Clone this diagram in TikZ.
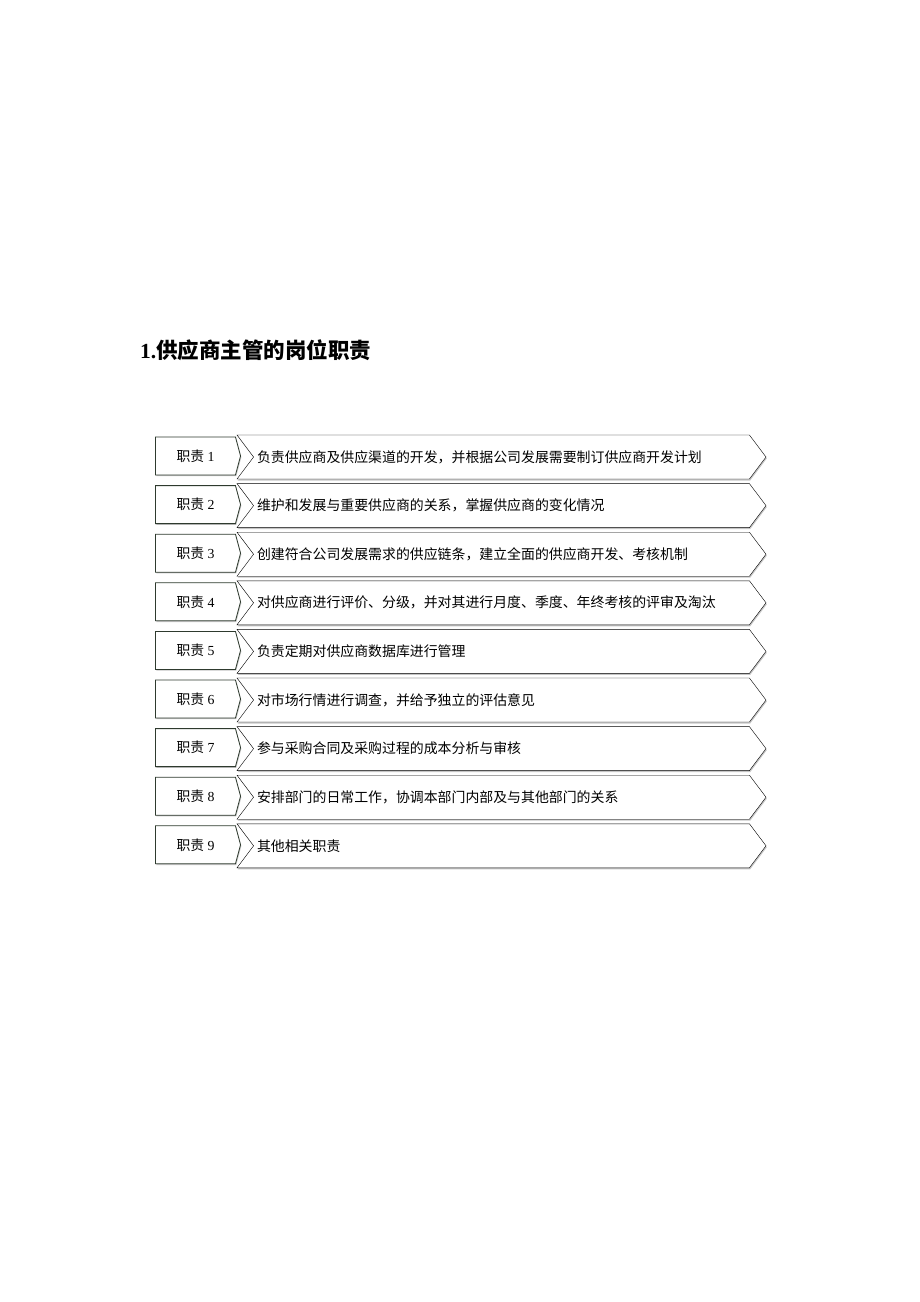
\documentclass[tikz,border=0pt]{standalone}
\usepackage{fontspec}
\setmainfont{Liberation Serif}
\newfontfamily\cjk{Noto Sans CJK SC}
\usepackage{tikz}
\usetikzlibrary{shapes.symbols,shadows}

\definecolor{boxline}{RGB}{46,58,46}
\tikzset{
  dutybox/.style = {signal, signal to = east, draw = boxline, thick, fill = white,
    minimum width = 85pt, minimum height = 38pt, signal pointer angle = 150,
    inner sep = 0pt, font = \fontsize{13.8}{15}\selectfont,
    drop shadow = {shadow xshift = .8pt, shadow yshift = -1.2pt, fill = black!45}},
  taskbar/.style = {signal, signal to = east, signal from = west, draw = black, fill = white,
    minimum width = 529pt, minimum height = 44pt, signal pointer angle = 106,
    inner xsep = 0pt, inner ysep = 2pt, text width = 489pt, align = left,
    font = \fontsize{13.9}{15}\selectfont\cjk,
    drop shadow = {shadow xshift = .8pt, shadow yshift = -1.5pt, fill = black!45}}
}

\begin{document}
\begin{tikzpicture}[x = 1pt, y = -1pt]
		\useasboundingbox (0, 0) rectangle (920, 1302);
		\node (title) at (136.5, 350) [anchor = west, font = \fontsize{21.5}{24}\selectfont\bfseries] {1.{\cjk\bfseries 供应商主管的岗位职责}};
		\foreach \n/\txt [count = \i from 0] in {
			1/负责供应商及供应渠道的开发，并根据公司发展需要制订供应商开发计划,
			2/维护和发展与重要供应商的关系，掌握供应商的变化情况,
			3/创建符合公司发展需求的供应链条，建立全面的供应商开发、考核机制,
			4/对供应商进行评价、分级，并对其进行月度、季度、年终考核的评审及淘汰,
			5/负责定期对供应商数据库进行管理,
			6/对市场行情进行调查，并给予独立的评估意见,
			7/参与采购合同及采购过程的成本分析与审核,
			8/安排部门的日常工作，协调本部门内部及与其他部门的关系,
			9/其他相关职责}
		{
			\node (task\n) [taskbar] at (501.5, 457 + 48.6*\i) {\txt};
			\node (duty\n) [dutybox] at (195.5, 456 + 48.6*\i) {{\cjk 职责} \n};
		}
	\end{tikzpicture}
\end{document}
